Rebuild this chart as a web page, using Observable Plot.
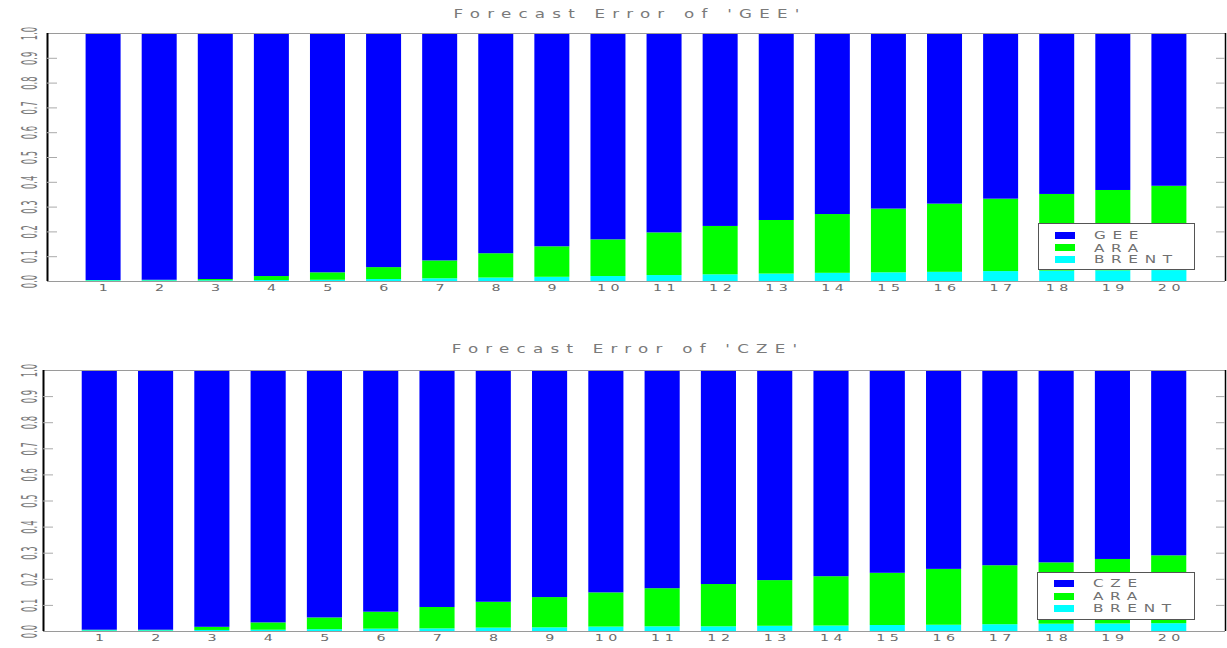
<!DOCTYPE html>
<html>
<head>
<meta charset="utf-8">
<script src="https://cdn.jsdelivr.net/npm/d3@7"></script>
<script src="https://cdn.jsdelivr.net/npm/@observablehq/plot@0.6"></script>
<style>
  body { margin: 0; background: #fff; }
  #chart { position: relative; width: 1227px; height: 648px; overflow: hidden; }
  .panel { position: relative; width: 1227px; height: 324px; }
  .panel svg { display: block; }
  .title {
    position: absolute; white-space: nowrap;
    font-family: "DejaVu Sans", sans-serif; font-size: 11.5px; color: #7a7a7a;
    letter-spacing: 5px;
    transform: translate(-50%, -50%) scaleX(1.45);
  }
  .legend { position: absolute; box-sizing: border-box; border: 1px solid #555; background: #fff; }
  .legend .sw { position: absolute; width: 20px; height: 7px; }
  .legend .lab {
    position: absolute; white-space: nowrap; transform-origin: left center;
    font-family: "DejaVu Sans", sans-serif; font-size: 10.5px; color: #707070;
    letter-spacing: 4.6px; transform: translateY(-50%) scaleX(1.45);
  }
</style>
</head>
<body>
<div id="chart"></div>
<script>
// Forecast horizons (periods ahead)
const horizons = [1, 2, 3, 4, 5, 6, 7, 8, 9, 10, 11, 12, 13, 14, 15, 16, 17, 18, 19, 20];

// Variance decomposition of the GEE forecast error
const geeOwn   = [0.996, 0.995, 0.992, 0.980, 0.965, 0.944, 0.917, 0.888, 0.860, 0.832,
                  0.804, 0.778, 0.754, 0.730, 0.708, 0.688, 0.668, 0.649, 0.633, 0.616];
const geeAra   = [0.001, 0.002, 0.005, 0.016, 0.030, 0.048, 0.072, 0.098, 0.123, 0.148,
                  0.172, 0.195, 0.216, 0.237, 0.257, 0.275, 0.292, 0.309, 0.324, 0.340];
const geeBrent = [0.003, 0.003, 0.003, 0.004, 0.005, 0.008, 0.011, 0.014, 0.017, 0.020,
                  0.024, 0.027, 0.030, 0.033, 0.035, 0.037, 0.040, 0.042, 0.043, 0.044];

// Variance decomposition of the CZE forecast error
const czeOwn   = [0.995, 0.995, 0.984, 0.967, 0.948, 0.926, 0.908, 0.888, 0.870, 0.852,
                  0.836, 0.820, 0.805, 0.790, 0.777, 0.762, 0.748, 0.737, 0.724, 0.710];
const czeAra   = [0.002, 0.002, 0.012, 0.028, 0.045, 0.065, 0.082, 0.099, 0.116, 0.131,
                  0.146, 0.162, 0.175, 0.189, 0.200, 0.214, 0.226, 0.235, 0.247, 0.260];
const czeBrent = [0.003, 0.003, 0.004, 0.005, 0.007, 0.009, 0.010, 0.013, 0.014, 0.017,
                  0.018, 0.018, 0.020, 0.021, 0.023, 0.024, 0.026, 0.028, 0.029, 0.030];

const yTicks = [0, 0.1, 0.2, 0.3, 0.4, 0.5, 0.6, 0.7, 0.8, 0.9, 1.0];
const innerTicks = [0.1, 0.2, 0.3, 0.4, 0.5, 0.6, 0.7, 0.8, 0.9];
const seriesColors = ["#0000ff", "#00ff00", "#00ffff"];
const W = 1227, H = 324;

// Apply an extra scale to a text element after its own translate/rotate
function stretch(el, sx, sy) {
  let t = el.getAttribute("transform");
  if (!t) {
    const x = +el.getAttribute("x") || 0, y = +el.getAttribute("y") || 0;
    el.removeAttribute("x"); el.removeAttribute("y");
    t = `translate(${x},${y})`;
  }
  el.setAttribute("transform", `${t} scale(${sx},${sy})`);
}

function panel(cfg) {
  const names = [cfg.own, "ARA", "BRENT"];
  // stack from the bottom: BRENT, ARA, then the variable's own shock
  const rows = [];
  horizons.forEach((h, i) => {
    let base = 0;
    for (const [name, vals] of [["BRENT", cfg.brent], ["ARA", cfg.ara], [cfg.own, cfg.ownVals]]) {
      rows.push({h, series: name, y1: base, y2: base + vals[i]});
      base += vals[i];
    }
  });
  const fw = W - cfg.marginLeft - 2;
  const svg = Plot.plot({
    width: W, height: H,
    marginTop: cfg.marginTop, marginBottom: cfg.marginBottom,
    marginLeft: cfg.marginLeft, marginRight: 2,
    x: {domain: [0, 21], axis: null},
    y: {domain: [0, 1], axis: null},
    color: {domain: names, range: seriesColors},
    style: {background: "#fff"},
    marks: [
      Plot.rect(rows, {x1: d => d.h - 0.312, x2: d => d.h + 0.312, y1: "y1", y2: "y2", fill: "series"}),
      Plot.ruleY([0, 1], {stroke: "#9a9a9a", strokeWidth: 1.2}),
      Plot.ruleX([0], {stroke: "#000", strokeWidth: 2}),
      Plot.ruleX([21], {stroke: "#000", strokeWidth: 1.5}),
      Plot.tickY(innerTicks, {y: d => d, stroke: "#aaa", insetRight: fw - 10}),
      Plot.tickY(innerTicks, {y: d => d, stroke: "#aaa", insetLeft: fw - 9}),
      Plot.text(horizons, {x: d => d, text: d => String(d), frameAnchor: "bottom", dy: cfg.xlabDy, dx: 2,
        fontFamily: "DejaVu Sans", fontSize: 9.5, fill: "#6a6a6a"}),
      Plot.text(yTicks, {y: d => d, text: d => d.toFixed(1), frameAnchor: "left", textAnchor: "middle",
        dx: cfg.ylabDx, rotate: -90, fontFamily: "DejaVu Sans", fontSize: 22, fill: "#7a7a7a"})
    ]
  });
  const textGroups = svg.querySelectorAll('g[aria-label="text"]');
  textGroups[0].style.letterSpacing = "3px";
  textGroups[0].querySelectorAll("text").forEach(t => stretch(t, 1.5, 1));
  textGroups[1].querySelectorAll("text").forEach(t => stretch(t, 0.38, 1));

  const wrap = document.createElement("div");
  wrap.className = "panel";
  wrap.appendChild(svg);

  const title = document.createElement("div");
  title.className = "title";
  title.textContent = cfg.title;
  title.style.left = cfg.titleX + "px";
  title.style.top = cfg.titleY + "px";
  wrap.appendChild(title);

  const leg = document.createElement("div");
  leg.className = "legend";
  Object.assign(leg.style, {left: cfg.legend.left + "px", top: cfg.legend.top + "px",
    width: cfg.legend.width + "px", height: cfg.legend.height + "px"});
  names.forEach((name, i) => {
    const cy = cfg.legend.rows[i];
    const sw = document.createElement("div");
    sw.className = "sw";
    sw.style.left = "16px";
    sw.style.top = (cy - 4.5) + "px";
    sw.style.background = seriesColors[i];
    leg.appendChild(sw);
    const lab = document.createElement("div");
    lab.className = "lab";
    lab.textContent = name;
    lab.style.left = "55px";
    lab.style.top = (cy - 1) + "px";
    leg.appendChild(lab);
  });
  wrap.appendChild(leg);
  return wrap;
}

const chart = document.getElementById("chart");
chart.appendChild(panel({
  own: "GEE", ownVals: geeOwn, ara: geeAra, brent: geeBrent,
  title: "Forecast Error of 'GEE'", titleX: 630, titleY: 14,
  marginTop: 33, marginBottom: 43, marginLeft: 47, ylabDx: -18, xlabDy: 9,
  legend: {left: 1038, top: 223, width: 157, height: 47, rows: [12, 24.5, 36]}
}));
chart.appendChild(panel({
  own: "CZE", ownVals: czeOwn, ara: czeAra, brent: czeBrent,
  title: "Forecast Error of 'CZE'", titleX: 628, titleY: 25,
  marginTop: 46, marginBottom: 17, marginLeft: 43, ylabDx: -14, xlabDy: 9,
  legend: {left: 1037, top: 248, width: 158, height: 48, rows: [11, 24, 36]}
}));
</script>
</body>
</html>
